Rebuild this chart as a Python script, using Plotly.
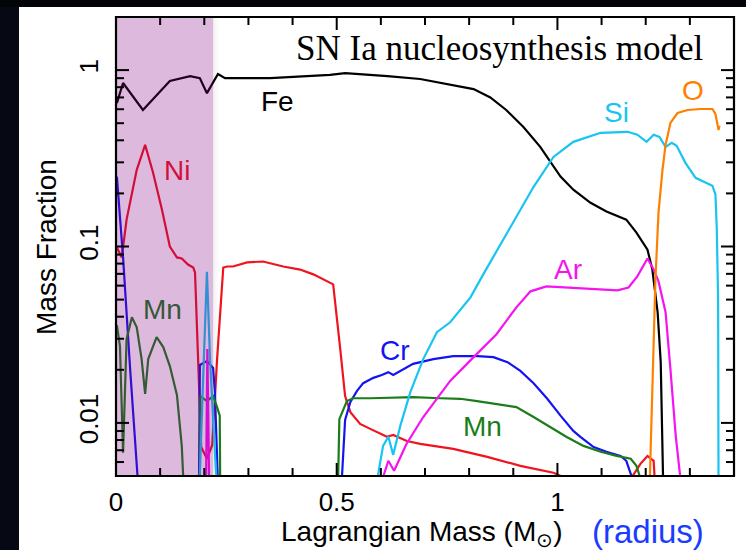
import plotly.graph_objects as go

# ---------------- data ----------------
fe_m = [0.002, 0.016, 0.061, 0.122, 0.168, 0.190, 0.206, 0.231, 0.247, 0.349, 0.485, 0.519,
        0.615, 0.689, 0.810, 0.848, 0.884, 0.923, 0.961, 1.007, 1.036, 1.075, 1.111, 1.156,
        1.179, 1.204, 1.215, 1.227, 1.234, 1.240]
fe_v = [0.65, 0.845, 0.594, 0.867, 0.925, 0.90, 0.74, 0.95, 0.90, 0.90, 0.94, 0.96,
        0.925, 0.89, 0.78, 0.70, 0.594, 0.476, 0.367, 0.249, 0.21, 0.177, 0.158, 0.142,
        0.12, 0.096, 0.074, 0.0424, 0.0221, 0.004]

ni_m = [0.002, 0.013, 0.024, 0.036, 0.047, 0.066, 0.084, 0.104, 0.122, 0.138, 0.149, 0.163,
        0.175, 0.179, 0.193, 0.206, 0.218, 0.229, 0.243, 0.252, 0.265, 0.297, 0.333, 0.379,
        0.417, 0.447, 0.492, 0.508, 0.519, 0.531, 0.553, 0.576, 0.599, 0.614, 0.628, 0.659,
        0.689, 0.764, 0.841, 0.916, 0.991, 1.016,
        None, 1.168, 1.188, 1.204, 1.218, 1.221]
ni_v = [0.0987, 0.0867, 0.142, 0.20, 0.272, 0.377, 0.262, 0.162, 0.10, 0.0867, 0.0855, 0.079,
        0.076, 0.0713, 0.0073, 0.00626, 0.0075, 0.023, 0.076, 0.077, 0.077, 0.0813, 0.0822, 0.077,
        0.074, 0.0695, 0.061, 0.0262, 0.0142, 0.0115, 0.00987, 0.00925, 0.00867, 0.00834, 0.00855, 0.0079,
        0.0076, 0.00713, 0.00642, 0.00571, 0.00522, 0.0049,
        None, 0.0049, 0.00586, 0.0065, 0.0061, 0.0045]

cr_m = [0.002, 0.016, 0.032, 0.050,
        None, 0.188, 0.190, 0.206, 0.220, 0.224, 0.231,
        None, 0.511, 0.519, 0.531, 0.546, 0.560, 0.583, 0.602, 0.617, 0.628, 0.644, 0.673,
        0.719, 0.764, 0.819, 0.855, 0.887, 0.916, 0.946, 0.977, 1.007, 1.036, 1.052, 1.082,
        1.111, 1.143, 1.156, 1.174]
cr_v = [0.249, 0.0867, 0.0202, 0.0045,
        None, 0.0045, 0.0213, 0.0224, 0.0205, 0.015, 0.0045,
        None, 0.0045, 0.0104, 0.01315, 0.0152, 0.0168, 0.0180, 0.0187, 0.0194, 0.0187, 0.0197, 0.0216,
        0.023, 0.0239, 0.0239, 0.0236, 0.0221, 0.0197, 0.0168, 0.0137, 0.011, 0.0090, 0.00834, 0.0073,
        0.00686, 0.0065, 0.0061, 0.0045]

mn_m = [0.002, 0.009, 0.016, 0.024, 0.036, 0.047, 0.058, 0.066, 0.073, 0.092, 0.107, 0.122,
        0.138, 0.149, 0.153,
        None, 0.190, 0.191, 0.206, 0.220, 0.228, 0.235, 0.236,
        None, 0.503, 0.506, 0.523, 0.537, 0.576, 0.673, 0.735, 0.780, 0.818, 0.862, 0.907,
        0.946, 0.984, 1.020, 1.059, 1.098, 1.134, 1.166, 1.179, 1.192]
mn_v = [0.0358, 0.0272, 0.00677, 0.0298, 0.0397, 0.0348, 0.023, 0.0146, 0.023, 0.0306, 0.0269, 0.021,
        0.0144, 0.00741, 0.0045,
        None, 0.0045, 0.0142, 0.0133, 0.0142, 0.0125, 0.011, 0.0045,
        None, 0.0045, 0.0105, 0.0133, 0.0138, 0.0138, 0.014, 0.0138, 0.0137, 0.0133, 0.0128, 0.0123,
        0.0108, 0.0095, 0.00834, 0.00741, 0.00686, 0.0065, 0.00626, 0.00571, 0.0045]

si_m = [0.189, 0.206, 0.213, 0.228,
        None, 0.590, 0.605, 0.617, 0.628, 0.644, 0.667, 0.696, 0.727, 0.757, 0.803, 0.832,
        0.871, 0.907, 0.946, 0.991, 1.036, 1.098, 1.159, 1.181, 1.202, 1.218, 1.231, 1.245,
        1.259, 1.270, 1.290, 1.313, 1.336, 1.351, 1.358, 1.361, 1.364, 1.365]
si_v = [0.0045, 0.072, 0.023, 0.0045,
        None, 0.0045, 0.00741, 0.00834, 0.00659, 0.00962, 0.015, 0.023, 0.0327, 0.0372, 0.0515, 0.0695,
        0.1026, 0.148, 0.218, 0.322, 0.392, 0.441, 0.447, 0.43, 0.392, 0.43, 0.418, 0.367,
        0.387, 0.372, 0.298, 0.245, 0.23, 0.221, 0.197, 0.125, 0.05, 0.004]

ar_m = [0.204, 0.207, 0.211,
        None, 0.600, 0.617, 0.630, 0.658, 0.696, 0.757, 0.810, 0.862, 0.907, 0.939, 0.975,
        1.020, 1.066, 1.111, 1.136, 1.161, 1.181, 1.204, 1.218, 1.229, 1.245, 1.256, 1.268, 1.280]
ar_v = [0.0045, 0.0262, 0.0045,
        None, 0.0045, 0.0061, 0.00536, 0.0076, 0.0108, 0.0173, 0.0236, 0.0318, 0.0452, 0.0557, 0.0594,
        0.0586, 0.0579, 0.0571, 0.0564, 0.0586, 0.0677, 0.0855, 0.0741, 0.0634, 0.0424, 0.0202, 0.00845, 0.0045]

o_m = [1.209, 1.215, 1.222, 1.229, 1.238, 1.245, 1.256, 1.272, 1.295, 1.324, 1.351, 1.358,
       1.362, 1.365, 1.367]
o_v = [0.0045, 0.0142, 0.065, 0.156, 0.272, 0.377, 0.502, 0.571, 0.594, 0.602, 0.602, 0.564,
       0.502, 0.458, 0.483]

species = ["Fe", "Ni", "Cr", "Mn", "Si", "Ar", "O"]
colors = {"Fe": "#000000", "Ni": "#f0141e", "Cr": "#1414f0", "Mn": "#1a7d1a",
          "Si": "#18c4f2", "Ar": "#f514f0", "O": "#ff8000"}
series = {"Fe": (fe_m, fe_v), "Ni": (ni_m, ni_v), "Cr": (cr_m, cr_v), "Mn": (mn_m, mn_v),
          "Si": (si_m, si_v), "Ar": (ar_m, ar_v), "O": (o_m, o_v)}

x_range = [0, 1.4]
x_major = [0, 0.5, 1]
x_major_text = ["0", "0.5", "1"]
x_minor = [0.1, 0.2, 0.3, 0.4, 0.6, 0.7, 0.8, 0.9, 1.1, 1.2, 1.3]
y_major = [0.01, 0.1, 1]
y_major_text = ["0.01", "0.1", "1"]
y_minor = [0.006, 0.007, 0.008, 0.009, 0.02, 0.03, 0.04, 0.05, 0.06, 0.07, 0.08, 0.09,
           0.2, 0.3, 0.4, 0.5, 0.6, 0.7, 0.8, 0.9]
shade_end = 0.22

# label texts: (text, colour, pixel x, pixel y)
labels = [("Fe", "#000000", 277, 101), ("Ni", "#d20f3c", 177, 171), ("Mn", "#35583a", 162, 309),
          ("Cr", "#1414f0", 395, 350), ("Mn", "#1a7d1a", 482, 426), ("Si", "#18c4f2", 616, 112),
          ("Ar", "#f514f0", 568, 269), ("O", "#ff8000", 693, 90)]

# ---------------- layout geometry ----------------
W, H = 746, 550
L, R, T, B = 116, 12, 17, 74
PW, PH = W - L - R, H - T - B
MAJOR_LEN, MINOR_LEN = 13, 8
TICK_W = 2.0          # tick thickness in pixels
X_SPAN = x_range[1] - x_range[0]
Y_DECADES = 2.602     # decades spanned by the y range


def px(x):
    return (x - L) / PW


def py(y):
    return (H - B - y) / PH


fig = go.Figure()
for s in species:
    m, v = series[s]
    fig.add_trace(go.Scatter(x=m, y=v, mode="lines", name=s, connectgaps=False,
                             line=dict(color=colors[s], width=2.2), showlegend=False,
                             hoverinfo="skip"))

sans = "Liberation Sans, Arial, sans-serif"

shapes = [
    # dark slide border (left and top strips)
    dict(type="rect", xref="paper", yref="paper", x0=px(-5), x1=px(19), y0=py(560), y1=py(-5),
         fillcolor="#060913", line_width=0, layer="below"),
    dict(type="rect", xref="paper", yref="paper", x0=px(-5), x1=px(760), y0=py(7), y1=py(-5),
         fillcolor="#030407", line_width=0, layer="below"),
    # purple highlighted core region (overlay)
    dict(type="rect", xref="x", yref="paper", x0=0, x1=shade_end, y0=0, y1=1,
         fillcolor="rgba(128,0,128,0.27)", line_width=0, layer="above"),
]
# soft shadow at the right edge of the shaded band
for i, a in enumerate([0.07, 0.045, 0.025, 0.012]):
    shapes.append(dict(type="rect", xref="x", yref="paper", x0=shade_end + i * 0.0035,
                       x1=shade_end + (i + 1) * 0.0035, y0=0, y1=1,
                       fillcolor=f"rgba(60,60,60,{a})", line_width=0, layer="above"))

# inward ticks on all four sides, drawn as thin filled bars through the axes' scales
hx = TICK_W / 2 / PW * X_SPAN
hy = 10 ** (TICK_W / 2 / PH * Y_DECADES)
for vals, ln in ((x_major, MAJOR_LEN), (x_minor, MINOR_LEN)):
    for v in vals:
        for y0, y1 in ((0, ln / PH), (1 - ln / PH, 1)):
            shapes.append(dict(type="rect", xref="x", yref="paper", x0=max(v - hx, 0),
                               x1=v + hx, y0=y0, y1=y1, fillcolor="black", line_width=0,
                               layer="above"))
for vals, ln in ((y_major, MAJOR_LEN), (y_minor, MINOR_LEN)):
    for v in vals:
        for x0, x1 in ((0, ln / PW), (1 - ln / PW, 1)):
            shapes.append(dict(type="rect", xref="paper", yref="y", x0=x0, x1=x1,
                               y0=v / hy, y1=v * hy, fillcolor="black", line_width=0,
                               layer="above"))
# plot frame
shapes.append(dict(type="rect", xref="paper", yref="paper", x0=0, x1=1, y0=0, y1=1,
                   line=dict(color="black", width=2.2), fillcolor="rgba(0,0,0,0)", layer="above"))

annotations = [
    dict(text="SN Ia nucleosynthesis model", xref="paper", yref="paper", x=px(500), y=py(48),
         showarrow=False, font=dict(family="Liberation Serif, Times New Roman, serif", size=35,
                                    color="black"), xanchor="center", yanchor="middle"),
    dict(text="Lagrangian Mass (M<sub>⊙</sub>)", xref="paper", yref="paper", x=px(422), y=py(533),
         showarrow=False, font=dict(family=sans, size=28, color="black"),
         xanchor="center", yanchor="middle"),
    dict(text="(radius)", xref="paper", yref="paper", x=px(648), y=py(531),
         showarrow=False, font=dict(family=sans, size=33, color="#1a3cff"),
         xanchor="center", yanchor="middle"),
    dict(text="Mass Fraction", xref="paper", yref="paper", x=px(46), y=py(247), textangle=-90,
         showarrow=False, font=dict(family=sans, size=28, color="black"),
         xanchor="center", yanchor="middle"),
]
for t, c, x, y in labels:
    annotations.append(dict(text=t, xref="paper", yref="paper", x=px(x), y=py(y), showarrow=False,
                            font=dict(family=sans, size=28, color=c),
                            xanchor="center", yanchor="middle"))

axis_common = dict(showgrid=False, zeroline=False, showline=False,
                   ticks="outside", tickcolor="rgba(0,0,0,0)", tickwidth=1,
                   tickfont=dict(family=sans, size=26, color="black"))

fig.update_layout(
    width=W, height=H, margin=dict(l=L, r=R, t=T, b=B, pad=0),
    paper_bgcolor="white", plot_bgcolor="white",
    shapes=shapes, annotations=annotations, showlegend=False,
    xaxis=dict(range=x_range, tickmode="array", tickvals=x_major, ticktext=x_major_text,
               ticklen=3, **axis_common),
    yaxis=dict(type="log", range=[-2.301, 0.301], tickmode="array", tickvals=y_major,
               ticktext=y_major_text, tickangle=-90, ticklen=7, **axis_common),
)

fig.write_html("out.html")
